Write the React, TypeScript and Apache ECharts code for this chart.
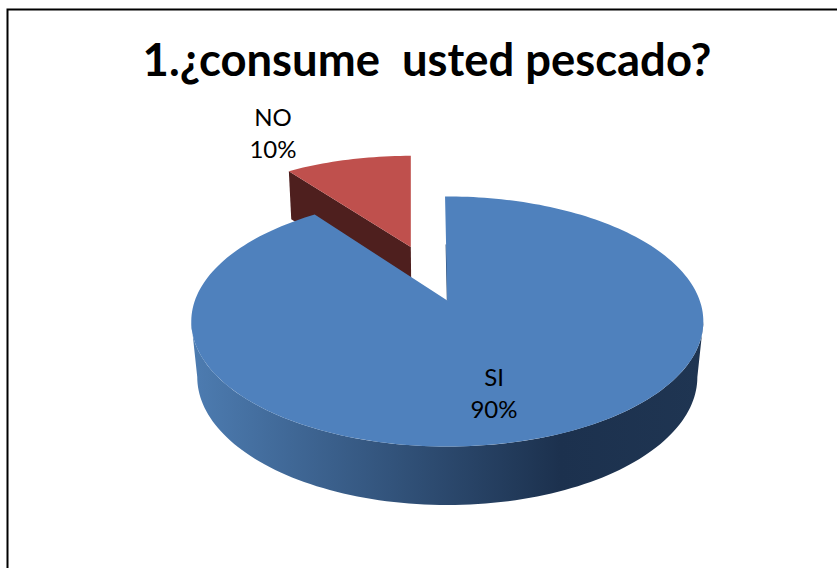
import React, { useEffect, useRef } from "react";
import * as echarts from "echarts";

// Survey answers, in percent
const categories = ["SI", "NO"];
const values = [90, 10];
const chartTitle = "1.¿consume  usted pescado?";

// Perspective strength of the disc: the far rim is drawn smaller than the near rim
const TILT = 0.168;
const START_DEG = -0.6;

type Rim = { x0: number; y0: number; ax: number; ay: number };
type Layout = { top: Rim; bottom: Rim; label: [number, number]; z: number; turn: number };

const layouts: Record<string, Layout> = {
  SI: {
    top: { x0: 447.3, y0: 300.5, ax: 252.4, ay: 121.5 },
    bottom: { x0: 447.3, y0: 355.5, ax: 246.5, ay: 124.4 },
    label: [494, 392],
    z: 3,
    turn: 0,
  },
  NO: {
    top: { x0: 410.8, y0: 247, ax: 235.7, ay: 106.5 },
    bottom: { x0: 411.3, y0: 295, ax: 232, ay: 106.5 },
    label: [273, 132],
    z: 2,
    turn: 0.6,
  },
};

// Projects a pie angle (degrees, clockwise from twelve o'clock) on to a rim
function project(rim: Rim, deg: number, radius = 1): number[] {
  const t = (deg * Math.PI) / 180;
  const u = Math.sin(t) * radius;
  const v = Math.cos(t) * radius;
  const w = 1 + TILT * v;
  return [rim.x0 + (rim.ax * u) / w, rim.y0 - (rim.ay * v) / w];
}

function arc(rim: Rim, from: number, to: number): number[][] {
  const steps = Math.max(2, Math.ceil(Math.abs(to - from) / 1.5));
  const pts: number[][] = [];
  for (let i = 0; i <= steps; i++) pts.push(project(rim, from + ((to - from) * i) / steps));
  return pts;
}

function sliceAngles(index: number): [number, number] {
  const total = values.reduce((a, b) => a + b, 0);
  const before = values.slice(0, index).reduce((a, b) => a + b, 0);
  return [START_DEG + (before / total) * 360, START_DEG + ((before + values[index]) / total) * 360];
}

function renderSI(from: number, to: number, l: Layout) {
  // Near wall between the two silhouette points of the disc
  const edge = (Math.acos(-TILT) * 180) / Math.PI;
  const wall = [...arc(l.top, edge, 360 - edge), ...arc(l.bottom, 360 - edge, edge)];
  const top = [[l.top.x0, l.top.y0], ...arc(l.top, from, to)];
  return [
    {
      type: "polygon",
      shape: { points: wall },
      style: {
        fill: new echarts.graphic.LinearGradient(0, 0, 1, 0, [
          { offset: 0, color: "#4d7cb1" },
          { offset: 0.72, color: "#1c314e" },
          { offset: 1, color: "#1f3552" },
        ]),
      },
    },
    {
      type: "polyline",
      shape: { points: [[l.top.x0, l.top.y0], project(l.top, from, 0.5)] },
      style: { stroke: "#2b4a70", lineWidth: 1, fill: "none" },
    },
    { type: "polygon", shape: { points: top }, style: { fill: "#4f81bd" } },
  ];
}

function renderNO(from: number, to: number, l: Layout) {
  const near = project(l.top, from);
  const nearLow = project(l.bottom, from);
  const face = [[l.top.x0, l.top.y0], near, nearLow, [l.bottom.x0, l.bottom.y0]];
  const top = [[l.top.x0, l.top.y0], ...arc(l.top, from, to)];
  return [
    { type: "polygon", shape: { points: face }, style: { fill: "#4e1f1e" } },
    { type: "polygon", shape: { points: top }, style: { fill: "#bf504d" } },
  ];
}

export default function App() {
  const ref = useRef<HTMLDivElement>(null);

  useEffect(() => {
    const chart = echarts.init(ref.current!, undefined, { renderer: "svg" });
    const series = categories.map((name, i) => {
      const l = layouts[name];
      const [a, b] = sliceAngles(i);
      const from = a + l.turn;
      const to = b + l.turn;
      return {
        type: "custom",
        name,
        z: l.z,
        coordinateSystem: "none",
        data: [values[i]],
        renderItem: () => ({
          type: "group",
          children: [
            ...(name === "SI" ? renderSI(from, to, l) : renderNO(from, to, l)),
            {
              type: "text",
              z2: 10,
              style: {
                x: l.label[0],
                y: l.label[1],
                text: `${name}\n${values[i]}%`,
                fill: "#000000",
                font: "24px Lato",
                lineHeight: 32,
                align: "center",
                verticalAlign: "middle",
              },
            },
          ],
        }),
      };
    });

    chart.setOption({
      animation: false,
      backgroundColor: "#ffffff",
      title: {
        text: chartTitle,
        left: 422,
        top: 31,
        textAlign: "center",
        textStyle: { fontFamily: "Lato", fontWeight: "bold", fontSize: 45.4, color: "#000000" },
      },
      graphic: [
        {
          type: "polyline",
          silent: true,
          z: 0,
          shape: { points: [[7.5, 568], [7.5, 9.5], [837, 9.5]] },
          style: { stroke: "#000000", lineWidth: 2, fill: "none" },
        },
      ],
      series,
    } as any);
    return () => chart.dispose();
  }, []);

  return <div ref={ref} style={{ position: "absolute", left: 0, top: 0, width: 837, height: 568 }} />;
}
